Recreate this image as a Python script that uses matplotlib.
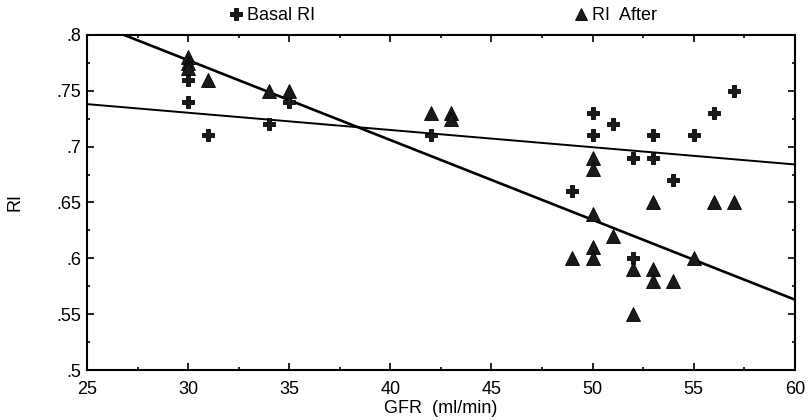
import matplotlib
matplotlib.use("Agg")
import matplotlib.pyplot as plt
from matplotlib.ticker import MultipleLocator, FuncFormatter

plt.rcParams['font.family'] = ['Liberation Sans', 'DejaVu Sans']

# Basal RI (crosses)
basal_gfr = [30, 30, 31, 34, 35, 42, 49, 50, 50, 51, 52, 52, 53, 53, 54, 55, 56, 57]
basal_ri = [.76, .74, .71, .72, .74, .71, .66, .73, .71, .72, .69, .60, .71, .69, .67, .71, .73, .75]

# RI after (triangles)
after_gfr = [30, 30, 30, 31, 34, 35, 42, 43, 43, 49, 50, 50, 50, 50, 50,
             51, 52, 52, 53, 53, 53, 54, 55, 56, 57]
after_ri = [.78, .775, .77, .76, .75, .75, .73, .73, .725, .60, .69, .68, .64, .61, .60,
            .62, .59, .55, .65, .59, .58, .58, .60, .65, .65]

# regression lines (ends at GFR 25 and 60)
fit_gfr = [25, 60]
basal_fit = [.738, .684]
after_fit = [.813, .563]

fs = 13

fig = plt.figure(figsize=(8.08, 4.2), dpi=100)
ax = fig.add_axes([0.1077, 0.119, 0.876, 0.798])

ax.plot(fit_gfr, basal_fit, color='black', lw=1.4)
ax.plot(fit_gfr, after_fit, color='black', lw=1.9)

ax.plot(basal_gfr, basal_ri, linestyle='none', marker='P', ms=9,
        color='#1a1a1a', mec='black', mew=0.6, label='Basal RI')
ax.plot(after_gfr, after_ri, linestyle='none', marker='^', ms=10,
        color='#1a1a1a', mec='black', mew=0.6, label='RI  After')

ax.set_xlim(25, 60)
ax.set_ylim(.5, .8)
ax.xaxis.set_major_locator(MultipleLocator(5))
ax.xaxis.set_minor_locator(MultipleLocator(2.5))
ax.yaxis.set_major_locator(MultipleLocator(.05))
ax.yaxis.set_minor_locator(MultipleLocator(.025))
ax.yaxis.set_major_formatter(FuncFormatter(lambda v, p: ('%g' % round(v, 3)).lstrip('0')))

ax.tick_params(which='both', direction='in', top=True, right=True, labelsize=fs, width=1.2)
ax.tick_params(which='major', length=5, pad=4)
ax.tick_params(which='minor', length=2.5)
ax.tick_params(axis='x', which='major', pad=8)
for s in ax.spines.values():
    s.set_linewidth(1.5)

ax.set_xlabel('GFR  (ml/min)', fontsize=fs, labelpad=1)
ax.set_ylabel('RI', fontsize=fs, labelpad=24)

ax.legend(loc='lower center', bbox_to_anchor=(0.504, 1.0), ncol=2, frameon=False,
          fontsize=fs, handlelength=0.6, handletextpad=0.3, columnspacing=14.4,
          markerscale=0.9, borderaxespad=0.2)

fig.savefig('out.png', dpi=100)
